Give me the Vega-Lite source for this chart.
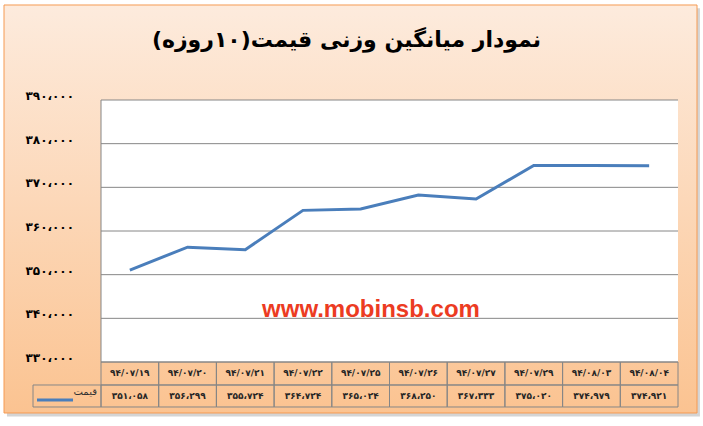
{
  "$schema": "https://vega.github.io/schema/vega-lite/v6.json",
  "width": 577,
  "height": 262,
  "autosize": "none",
  "padding": {"left": 101, "top": 100, "right": 25, "bottom": 64},
  "background": "#ffffff",
  "title": {
    "text": "\u200fنمودار میانگین وزنی قیمت(۱۰روزه)\u200f",
    "font": "DejaVu Sans",
    "fontSize": 22,
    "fontWeight": "bold",
    "color": "#000000",
    "anchor": "middle",
    "frame": "group",
    "offset": -48,
    "dx": -43
  },
  "datasets": {
    "prices": [
      {"date": "۹۴/۰۷/۱۹", "value": 351058, "label": "۳۵۱،۰۵۸"},
      {"date": "۹۴/۰۷/۲۰", "value": 356299, "label": "۳۵۶،۲۹۹"},
      {"date": "۹۴/۰۷/۲۱", "value": 355724, "label": "۳۵۵،۷۲۴"},
      {"date": "۹۴/۰۷/۲۲", "value": 364724, "label": "۳۶۴،۷۲۴"},
      {"date": "۹۴/۰۷/۲۵", "value": 365024, "label": "۳۶۵،۰۲۴"},
      {"date": "۹۴/۰۷/۲۶", "value": 368250, "label": "۳۶۸،۲۵۰"},
      {"date": "۹۴/۰۷/۲۷", "value": 367333, "label": "۳۶۷،۳۳۳"},
      {"date": "۹۴/۰۷/۲۹", "value": 375020, "label": "۳۷۵،۰۲۰"},
      {"date": "۹۴/۰۸/۰۳", "value": 374979, "label": "۳۷۴،۹۷۹"},
      {"date": "۹۴/۰۸/۰۴", "value": 374921, "label": "۳۷۴،۹۲۱"}
    ],
    "grid": [
      {"level": 330000, "tick": "۳۳۰،۰۰۰"},
      {"level": 340000, "tick": "۳۴۰،۰۰۰"},
      {"level": 350000, "tick": "۳۵۰،۰۰۰"},
      {"level": 360000, "tick": "۳۶۰،۰۰۰"},
      {"level": 370000, "tick": "۳۷۰،۰۰۰"},
      {"level": 380000, "tick": "۳۸۰،۰۰۰"},
      {"level": 390000, "tick": "۳۹۰،۰۰۰"}
    ]
  },
  "layer": [
    {
      "data": {"values": [{}]},
      "mark": {"type": "rect", "fill": "#b8b8b8", "opacity": 0.6},
      "encoding": {
        "x": {"datum": -2.13, "type": "quantitative", "scale": {"domain": [-0.5, 9.5], "nice": false, "zero": false}, "axis": null},
        "x2": {"datum": 9.88},
        "y": {"datum": 411000, "type": "quantitative", "scale": {"domain": [330000, 390000], "nice": false, "zero": false}, "axis": null},
        "y2": {"datum": 317500}
      }
    },
    {
      "data": {"values": [{}]},
      "mark": {
        "type": "rect",
        "fill": {
          "gradient": "linear",
          "x1": 0, "y1": 0, "x2": 0, "y2": 1,
          "stops": [
            {"offset": 0, "color": "#FDEBDD"},
            {"offset": 1, "color": "#FBC391"}
          ]
        },
        "stroke": "#F59A52",
        "strokeWidth": 1
      },
      "encoding": {
        "x": {"datum": -2.1811, "type": "quantitative", "scale": {"domain": [-0.5, 9.5], "nice": false, "zero": false}, "axis": null},
        "x2": {"datum": 9.8293},
        "y": {"datum": 411756, "type": "quantitative", "scale": {"domain": [330000, 390000], "nice": false, "zero": false}, "axis": null},
        "y2": {"datum": 318321}
      }
    },
    {
      "data": {"values": [{}]},
      "mark": {"type": "rect", "fill": "#ffffff"},
      "encoding": {
        "x": {"datum": -0.5, "type": "quantitative", "scale": {"domain": [-0.5, 9.5], "nice": false, "zero": false}, "axis": null},
        "x2": {"datum": 9.5},
        "y": {"datum": 330000, "type": "quantitative", "scale": {"domain": [330000, 390000], "nice": false, "zero": false}, "axis": null},
        "y2": {"datum": 390000}
      }
    },
    {
      "data": {"name": "grid"},
      "mark": {"type": "rule", "stroke": "#868686", "strokeWidth": 1},
      "encoding": {
        "x": {"datum": -0.5, "type": "quantitative", "scale": {"domain": [-0.5, 9.5], "nice": false, "zero": false}, "axis": null},
        "x2": {"datum": 9.5},
        "y": {"field": "level", "type": "quantitative", "scale": {"domain": [330000, 390000], "nice": false, "zero": false}, "axis": null}
      }
    },
    {
      "data": {"name": "grid"},
      "mark": {"type": "text", "font": "DejaVu Sans", "fontSize": 12, "fontWeight": "bold", "color": "#000000", "align": "right", "baseline": "middle", "dy": -4},
      "encoding": {
        "x": {"datum": -0.968, "type": "quantitative", "scale": {"domain": [-0.5, 9.5], "nice": false, "zero": false}, "axis": null},
        "y": {"field": "level", "type": "quantitative", "scale": {"domain": [330000, 390000], "nice": false, "zero": false}, "axis": null},
        "text": {"field": "tick"}
      }
    },
    {
      "data": {"values": [{}]},
      "mark": {"type": "rule", "stroke": "#868686", "strokeWidth": 1},
      "encoding": {
        "x": {"datum": -0.5, "type": "quantitative", "scale": {"domain": [-0.5, 9.5], "nice": false, "zero": false}, "axis": null},
        "y": {"datum": 330000, "type": "quantitative", "scale": {"domain": [330000, 390000], "nice": false, "zero": false}, "axis": null},
        "y2": {"datum": 390000}
      }
    },
    {
      "data": {"name": "prices"},
      "transform": [
        {"window": [{"op": "row_number", "as": "n"}]},
        {"calculate": "datum.n - 1.5", "as": "x0"},
        {"calculate": "datum.n - 0.5", "as": "x1"}
      ],
      "mark": {"type": "rect", "fillOpacity": 0, "stroke": "#868686", "strokeWidth": 1},
      "encoding": {
        "x": {"field": "x0", "type": "quantitative", "scale": {"domain": [-0.5, 9.5], "nice": false, "zero": false}, "axis": null},
        "x2": {"field": "x1"},
        "y": {"datum": 330000, "type": "quantitative", "scale": {"domain": [330000, 390000], "nice": false, "zero": false}, "axis": null},
        "y2": {"datum": 324733}
      }
    },
    {
      "data": {"name": "prices"},
      "transform": [
        {"window": [{"op": "row_number", "as": "n"}]},
        {"calculate": "datum.n - 1.5", "as": "x0"},
        {"calculate": "datum.n - 0.5", "as": "x1"}
      ],
      "mark": {"type": "rect", "fillOpacity": 0, "stroke": "#868686", "strokeWidth": 1},
      "encoding": {
        "x": {"field": "x0", "type": "quantitative", "scale": {"domain": [-0.5, 9.5], "nice": false, "zero": false}, "axis": null},
        "x2": {"field": "x1"},
        "y": {"datum": 324733, "type": "quantitative", "scale": {"domain": [330000, 390000], "nice": false, "zero": false}, "axis": null},
        "y2": {"datum": 319695}
      }
    },
    {
      "data": {"values": [{}]},
      "mark": {"type": "rect", "fillOpacity": 0, "stroke": "#868686", "strokeWidth": 1},
      "encoding": {
        "x": {"datum": -1.6785, "type": "quantitative", "scale": {"domain": [-0.5, 9.5], "nice": false, "zero": false}, "axis": null},
        "x2": {"datum": -0.5},
        "y": {"datum": 324733, "type": "quantitative", "scale": {"domain": [330000, 390000], "nice": false, "zero": false}, "axis": null},
        "y2": {"datum": 319695}
      }
    },
    {
      "data": {"name": "prices"},
      "transform": [
        {"window": [{"op": "row_number", "as": "n"}]},
        {"calculate": "datum.n - 1", "as": "i"}
      ],
      "mark": {"type": "line", "stroke": "#4A7EBB", "strokeWidth": 3},
      "encoding": {
        "x": {"field": "i", "type": "quantitative", "scale": {"domain": [-0.5, 9.5], "nice": false, "zero": false}, "axis": null},
        "y": {"field": "value", "type": "quantitative", "scale": {"domain": [330000, 390000], "nice": false, "zero": false}, "axis": null}
      }
    },
    {
      "data": {"name": "prices"},
      "transform": [
        {"window": [{"op": "row_number", "as": "n"}]},
        {"calculate": "datum.n - 1", "as": "i"}
      ],
      "mark": {"type": "text", "font": "DejaVu Sans", "fontSize": 9, "fontWeight": "bold", "color": "#262626", "baseline": "middle"},
      "encoding": {
        "x": {"field": "i", "type": "quantitative", "scale": {"domain": [-0.5, 9.5], "nice": false, "zero": false}, "axis": null},
        "y": {"datum": 327367, "type": "quantitative", "scale": {"domain": [330000, 390000], "nice": false, "zero": false}, "axis": null},
        "text": {"field": "date"}
      }
    },
    {
      "data": {"name": "prices"},
      "transform": [
        {"window": [{"op": "row_number", "as": "n"}]},
        {"calculate": "datum.n - 1", "as": "i"}
      ],
      "mark": {"type": "text", "font": "DejaVu Sans", "fontSize": 9, "fontWeight": "bold", "color": "#262626", "baseline": "middle"},
      "encoding": {
        "x": {"field": "i", "type": "quantitative", "scale": {"domain": [-0.5, 9.5], "nice": false, "zero": false}, "axis": null},
        "y": {"datum": 322214, "type": "quantitative", "scale": {"domain": [330000, 390000], "nice": false, "zero": false}, "axis": null},
        "text": {"field": "label"}
      }
    },
    {
      "data": {"values": [{}]},
      "mark": {"type": "rule", "stroke": "#4A7EBB", "strokeWidth": 3},
      "encoding": {
        "x": {"datum": -1.609, "type": "quantitative", "scale": {"domain": [-0.5, 9.5], "nice": false, "zero": false}, "axis": null},
        "x2": {"datum": -0.985},
        "y": {"datum": 321298, "type": "quantitative", "scale": {"domain": [330000, 390000], "nice": false, "zero": false}, "axis": null}
      }
    },
    {
      "data": {"values": [{}]},
      "mark": {"type": "text", "text": "قیمت", "font": "DejaVu Sans", "fontSize": 10, "color": "#333333", "align": "right", "baseline": "middle"},
      "encoding": {
        "x": {"datum": -0.57, "type": "quantitative", "scale": {"domain": [-0.5, 9.5], "nice": false, "zero": false}, "axis": null},
        "y": {"datum": 323130, "type": "quantitative", "scale": {"domain": [330000, 390000], "nice": false, "zero": false}, "axis": null}
      }
    },
    {
      "data": {"values": [{}]},
      "mark": {"type": "text", "text": "www.mobinsb.com", "font": "Liberation Sans", "fontSize": 24, "fontWeight": "bold", "color": "#EC3B22", "align": "center", "baseline": "alphabetic"},
      "encoding": {
        "x": {"datum": 4.179, "type": "quantitative", "scale": {"domain": [-0.5, 9.5], "nice": false, "zero": false}, "axis": null},
        "y": {"datum": 340305, "type": "quantitative", "scale": {"domain": [330000, 390000], "nice": false, "zero": false}, "axis": null}
      }
    }
  ],
  "config": {
    "view": {"stroke": null, "fill": null}
  }
}
